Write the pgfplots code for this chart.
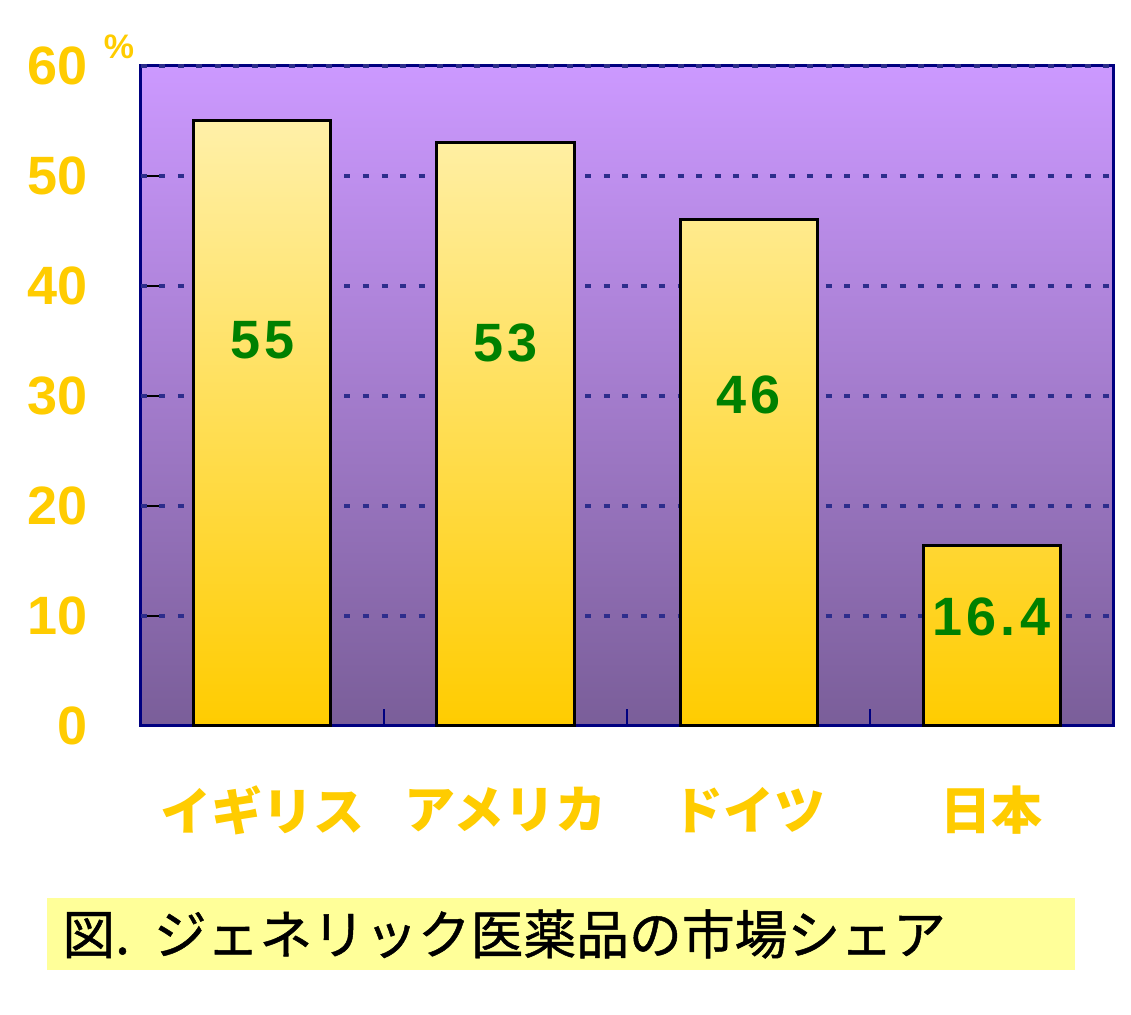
\documentclass[border=0pt]{standalone}
\usepackage{fontspec}
\setmainfont{Liberation Sans}
\newfontfamily\cjk{Noto Sans CJK JP}
\newfontfamily\cjkm{Noto Sans CJK JP}[FakeBold=0.9]
\usepackage{pgfplots}
\pgfplotsset{compat=1.18}
\definecolor{gold}{RGB}{255,204,0}
\definecolor{barlight}{RGB}{255,240,168}
\definecolor{bgtop}{RGB}{204,153,255}
\definecolor{bgmid}{RGB}{172,128,218}
\definecolor{bgbot}{RGB}{122,94,153}
\definecolor{navy}{RGB}{0,0,128}
\definecolor{gridc}{RGB}{45,45,140}
\definecolor{valgreen}{RGB}{0,128,0}
\definecolor{titlebg}{RGB}{255,255,153}

\begin{document}
\begin{tikzpicture}
\begin{axis}[
    name=ax,
    at={(0,0)}, anchor=south west,
    width=486pt, height=330pt, scale only axis,
    xmin=-0.5, xmax=3.5, ymin=0, ymax=60,
    ybar, bar width=68.5pt,
    xtick={0,1,2,3},
    xticklabels={イギリス,アメリカ,ドイツ,日本},
    minor xtick={0.5,1.5,2.5},
    ytick={0,10,...,60},
    extra y ticks={10,20,...,60},
    extra y tick labels={},
    extra y tick style={ymajorgrids=true, major tick length=0pt},
    xtick pos=bottom, ytick pos=left,
    tick align=inside,
    major tick length=10pt, minor tick length=8.5pt,
    major x tick style={draw=none},
    minor x tick style={navy, line width=0.6pt},
    y tick style={black, line width=0.6pt},
    every major grid/.style={gridc, line width=2.2pt, dash pattern=on 3pt off 6.25pt},
    axis line style={navy, line width=1.5pt},
    axis background/.style={top color=bgtop, middle color=bgmid, bottom color=bgbot},
    /pgf/number format/assume math mode=true,
    yticklabel style={gold, font=\fontsize{27}{28}\selectfont\bfseries,
        anchor=east, inner sep=0pt, xshift=-26.5pt},
    xticklabel style={gold, font=\cjk\bfseries\fontsize{25.5}{27}\selectfont,
        anchor=center, inner sep=0pt, yshift=-42pt},
    clip=false,
]
\addplot[draw=black, line width=1.5pt, top color=barlight, bottom color=gold]
    coordinates {(0,55) (1,53) (2,46) (3,16.4)};
\node[valgreen, font=\fontsize{27}{28}\selectfont\bfseries] at (axis cs:0,35.1) {5\hspace{2pt}5};
\node[valgreen, font=\fontsize{27}{28}\selectfont\bfseries] at (axis cs:1,34.8) {5\hspace{2pt}3};
\node[valgreen, font=\fontsize{27}{28}\selectfont\bfseries] at (axis cs:2,30.1) {4\hspace{2pt}6};
\node[valgreen, font=\fontsize{27}{28}\selectfont\bfseries] at (axis cs:3,9.9) {1\hspace{2pt}6\hspace{2pt}.\hspace{2pt}4};
\end{axis}
\node[gold, font=\fontsize{17}{18}\selectfont\bfseries] at ([xshift=-11pt,yshift=9.5pt]ax.north west) {\%};
\fill[titlebg] ([xshift=-47pt,yshift=-86pt]ax.south west) rectangle ([xshift=467pt,yshift=-122pt]ax.south west);
\node[anchor=west, inner sep=0pt, font=\cjkm\fontsize{26.4}{27}\selectfont]
    at ([xshift=-39.5pt,yshift=-104pt]ax.south west) {図.\hspace{12pt}ジェネリック医薬品の市場シェア};
\pgfresetboundingbox
\path ([xshift=-70.5pt,yshift=-144.5pt]ax.south west) rectangle ([xshift=9pt,yshift=33pt]ax.north east);
\end{tikzpicture}
\end{document}
